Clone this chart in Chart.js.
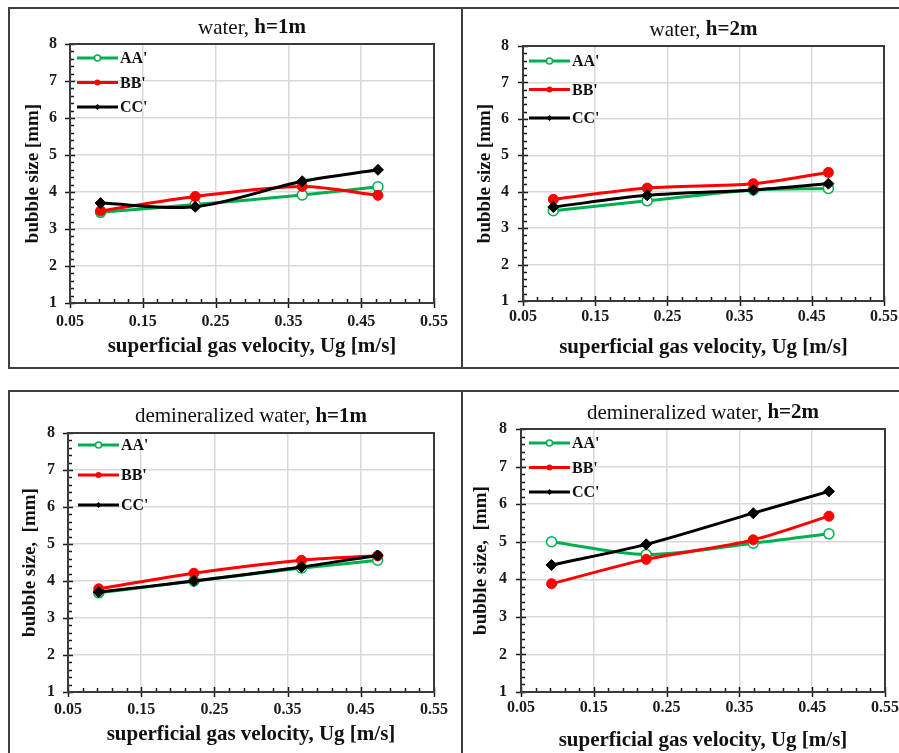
<!DOCTYPE html>
<html>
<head>
<meta charset="utf-8">
<script src="https://cdn.jsdelivr.net/npm/chart.js@4.4.0/dist/chart.umd.min.js"></script>
<style>
    html, body { margin: 0; padding: 0; background: #fff; overflow: hidden; width: 899px; height: 753px; }
    .box { position: absolute; border: 2px solid #3f3f3f; box-sizing: border-box; }
    canvas { position: absolute; }
</style>
</head>
<body>
<div class="box" style="left:8px;top:7px;width:455px;height:362px"></div>
<div class="box" style="left:461px;top:7px;width:460px;height:362px"></div>
<div class="box" style="left:8px;top:390px;width:455px;height:380px"></div>
<div class="box" style="left:461px;top:390px;width:460px;height:380px"></div>

<canvas id="c1" width="451" height="358" style="left:10px;top:9px"></canvas>
<canvas id="c2" width="457" height="358" style="left:463px;top:9px"></canvas>
<canvas id="c3" width="451" height="361" style="left:10px;top:392px"></canvas>
<canvas id="c4" width="456" height="361" style="left:464px;top:392px"></canvas>

<script>
// superficial gas velocity (x positions of the measurements)
const ugValues = [0.092, 0.222, 0.369, 0.473];
const xTicks = [0.05, 0.15, 0.25, 0.35, 0.45, 0.55];
const seriesNames = ["AA'", "BB'", "CC'"];

// water, h=1m
const water1AA = [3.45, 3.66, 3.92, 4.14];
const water1BB = [3.49, 3.88, 4.15, 3.91];
const water1CC = [3.70, 3.60, 4.29, 4.60];

// water, h=2m
const water2AA = [3.48, 3.75, 4.05, 4.09];
const water2BB = [3.79, 4.10, 4.22, 4.53];
const water2CC = [3.58, 3.90, 4.05, 4.22];

// demineralized water, h=1m
const demin1AA = [3.68, 4.00, 4.35, 4.56];
const demin1BB = [3.79, 4.21, 4.56, 4.68];
const demin1CC = [3.70, 4.00, 4.38, 4.69];

// demineralized water, h=2m
const demin2AA = [5.00, 4.66, 4.96, 5.21];
const demin2BB = [3.88, 4.53, 5.05, 5.68];
const demin2CC = [4.38, 4.93, 5.76, 6.34];

const GREEN = '#00b050', RED = '#ff0000', BLACK = '#000000';
const SERIF = '"Liberation Serif", "Times New Roman", serif';

// title with a normal part and a bold part, centred over the plot
const titlePlugin = {
    id: 'mixedTitle',
    afterDraw(chart, args, opts) {
        const ctx = chart.ctx;
        const a = chart.chartArea;
        ctx.save();
        ctx.fillStyle = '#111';
        ctx.textBaseline = 'middle';
        const fNorm = '21px ' + SERIF, fBold = 'bold 21px ' + SERIF;
        ctx.font = fNorm;
        const w1 = ctx.measureText(opts.normal).width;
        ctx.font = fBold;
        const w2 = ctx.measureText(opts.bold).width;
        let x = (a.left + a.right) / 2 - (w1 + w2) / 2;
        ctx.textAlign = 'left';
        ctx.font = fNorm;
        ctx.fillText(opts.normal, x, opts.y);
        ctx.font = fBold;
        ctx.fillText(opts.bold, x + w1, opts.y);
        ctx.restore();
    }
};

// plot frame, major ticks crossing the axes, minor ticks inside
const framePlugin = {
    id: 'frame',
    beforeDatasetsDraw(chart) {
        const ctx = chart.ctx;
        const a = chart.chartArea;
        const xs = chart.scales.x, ys = chart.scales.y;
        ctx.save();
        ctx.strokeStyle = '#1a1a1a';
        ctx.lineWidth = 1.5;
        ctx.beginPath();
        for (let v = 0.05; v <= 0.5501; v += 0.02) {
            const px = Math.round(xs.getPixelForValue(v)) + 0.5;
            ctx.moveTo(px, a.bottom);
            ctx.lineTo(px, a.bottom - 4);
        }
        for (let v = 1; v <= 8.001; v += 0.2) {
            const py = Math.round(ys.getPixelForValue(v)) + 0.5;
            ctx.moveTo(a.left, py);
            ctx.lineTo(a.left + 4, py);
        }
        xTicks.forEach(v => {
            const px = Math.round(xs.getPixelForValue(v)) + 0.5;
            ctx.moveTo(px, a.bottom - 5);
            ctx.lineTo(px, a.bottom + 5);
        });
        for (let v = 1; v <= 8; v++) {
            const py = Math.round(ys.getPixelForValue(v)) + 0.5;
            ctx.moveTo(a.left - 5, py);
            ctx.lineTo(a.left + 5, py);
        }
        ctx.stroke();
        ctx.strokeStyle = '#3a3a3a';
        ctx.lineWidth = 2;
        ctx.strokeRect(a.left, a.top, a.right - a.left, a.bottom - a.top);
        ctx.restore();
    }
};

function drawMarker(ctx, style, x, y, r, color) {
    ctx.beginPath();
    if (style === 'rectRot') {
        ctx.moveTo(x, y - r); ctx.lineTo(x + r, y); ctx.lineTo(x, y + r); ctx.lineTo(x - r, y);
        ctx.closePath();
        ctx.fillStyle = color; ctx.fill();
    } else if (style === 'open') {
        ctx.arc(x, y, r, 0, Math.PI * 2);
        ctx.fillStyle = '#fff'; ctx.fill();
        ctx.lineWidth = 1.5; ctx.strokeStyle = color; ctx.stroke();
    } else {
        ctx.arc(x, y, r, 0, Math.PI * 2);
        ctx.fillStyle = color; ctx.fill();
    }
}

// legend inside the plot, top-left
const legendPlugin = {
    id: 'innerLegend',
    afterDatasetsDraw(chart, args, opts) {
        const ctx = chart.ctx;
        const a = chart.chartArea;
        ctx.save();
        chart.data.datasets.forEach((ds, i) => {
            const y = a.top + opts.y0 + i * opts.dy;
            const x0 = a.left + opts.x, x1 = x0 + 41;
            ctx.strokeStyle = ds.borderColor;
            ctx.lineWidth = 3;
            ctx.beginPath(); ctx.moveTo(x0, y); ctx.lineTo(x1, y); ctx.stroke();
            drawMarker(ctx, ds.legendMarker, (x0 + x1) / 2, y, 3, ds.borderColor);
            ctx.fillStyle = '#111';
            ctx.font = 'bold 16px ' + SERIF;
            ctx.textAlign = 'left';
            ctx.textBaseline = 'middle';
            ctx.fillText(ds.label, x1 + 2, y + 1);
        });
        ctx.restore();
    }
};

function makeChart(id, aa, bb, cc, p) {
    const pts = arr => arr.map((v, i) => ({ x: ugValues[i], y: v }));
    new Chart(document.getElementById(id), {
        type: 'line',
        data: {
            datasets: [
                { label: seriesNames[0], data: pts(aa), borderColor: GREEN, backgroundColor: '#fff',
                  pointBorderColor: GREEN, pointBorderWidth: 1.5, pointRadius: 5, pointStyle: 'circle',
                  legendMarker: 'open', order: 2 },
                { label: seriesNames[1], data: pts(bb), borderColor: RED, backgroundColor: RED,
                  pointBorderColor: RED, pointRadius: 5, pointStyle: 'circle',
                  legendMarker: 'circle', order: 1 },
                { label: seriesNames[2], data: pts(cc), borderColor: BLACK, backgroundColor: BLACK,
                  pointBorderColor: BLACK, pointRadius: 5.5, pointStyle: 'rectRot',
                  legendMarker: 'rectRot', order: 0 }
            ]
        },
        options: {
            responsive: false,
            animation: false,
            devicePixelRatio: 1,
            layout: { padding: { left: 0, top: p.top, right: p.right, bottom: 0 } },
            elements: { line: { borderWidth: 3, tension: 0.3 } },
            plugins: {
                legend: { display: false },
                tooltip: { enabled: false },
                mixedTitle: { normal: p.titleNormal, bold: p.titleBold, y: p.titleY },
                innerLegend: p.legend
            },
            scales: {
                x: {
                    type: 'linear',
                    min: 0.05,
                    max: 0.55,
                    afterBuildTicks: s => { s.ticks = xTicks.map(v => ({ value: v })); },
                    afterFit: s => { s.height = p.xHeight; },
                    grid: { color: '#d9d9d9', lineWidth: 1.5, drawTicks: false },
                    border: { display: false },
                    ticks: {
                        padding: p.xTickPad,
                        color: '#1a1a1a',
                        font: { family: SERIF, size: 16, weight: 'bold', lineHeight: 1.2 },
                        callback: v => v.toFixed(2),
                        maxRotation: 0
                    },
                    title: {
                        display: true,
                        text: 'superficial gas velocity, Ug [m/s]',
                        color: '#111',
                        font: { family: SERIF, size: 21, weight: 'bold', lineHeight: 1.2 },
                        padding: { top: 0, bottom: p.xTitlePad }
                    }
                },
                y: {
                    min: 1,
                    max: 8,
                    afterFit: s => { s.width = p.yWidth; },
                    grid: { color: '#d9d9d9', lineWidth: 1.5, drawTicks: false },
                    border: { display: false },
                    ticks: {
                        stepSize: 1,
                        padding: p.yTickPad,
                        color: '#1a1a1a',
                        font: { family: SERIF, size: 16, weight: 'bold', lineHeight: 1.2 }
                    },
                    title: {
                        display: true,
                        text: p.yTitle,
                        color: '#111',
                        font: { family: SERIF, size: 19, weight: 'bold', lineHeight: 1.2 },
                        padding: { top: p.yTitlePad, bottom: 0 }
                    }
                }
            }
        },
        plugins: [framePlugin, legendPlugin, titlePlugin]
    });
}

makeChart('c1', water1AA, water1BB, water1CC, {
    top: 35, right: 27, xHeight: 64, yWidth: 60,
    xTickPad: 9.4, xTitlePad: 7.4, yTickPad: 13, yTitlePad: 11.6,
    titleNormal: 'water, ', titleBold: 'h=1m', titleY: 19,
    yTitle: 'bubble size [mm]',
    legend: { x: 7, y0: 14, dy: 24.5 }
});
makeChart('c2', water2AA, water2BB, water2CC, {
    top: 37, right: 36, xHeight: 66, yWidth: 60,
    xTickPad: 6.1, xTitlePad: 6.4, yTickPad: 14, yTitlePad: 10.6,
    titleNormal: 'water, ', titleBold: 'h=2m', titleY: 21,
    yTitle: 'bubble size [mm]',
    legend: { x: 6, y0: 15, dy: 28.5 }
});
makeChart('c3', demin1AA, demin1BB, demin1CC, {
    top: 41, right: 27, xHeight: 61, yWidth: 58,
    xTickPad: 8.4, xTitlePad: 5.4, yTickPad: 13, yTitlePad: 8.6,
    titleNormal: 'demineralized water, ', titleBold: 'h=1m', titleY: 24.7,
    yTitle: 'bubble size,  [mm]',
    legend: { x: 10, y0: 12, dy: 30 }
});
makeChart('c4', demin2AA, demin2BB, demin2CC, {
    top: 37, right: 35, xHeight: 61, yWidth: 57,
    xTickPad: 6.4, xTitlePad: 0, yTickPad: 14, yTitlePad: 5.3,
    titleNormal: 'demineralized water, ', titleBold: 'h=2m', titleY: 21,
    yTitle: 'bubble size,  [mm]',
    legend: { x: 8, y0: 14, dy: 24.5 }
});
</script>
</body>
</html>
